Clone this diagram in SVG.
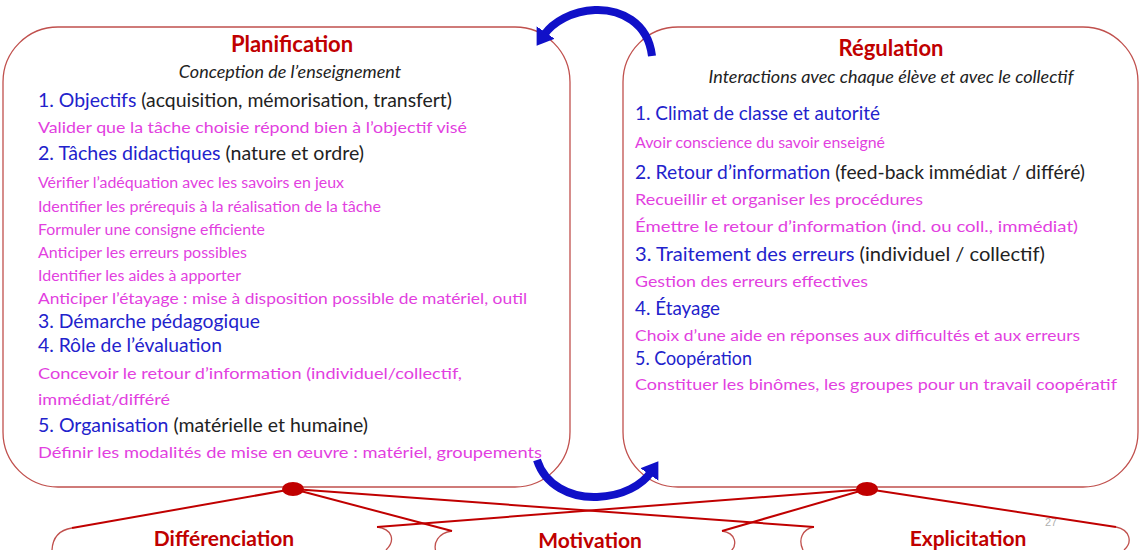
<svg xmlns="http://www.w3.org/2000/svg" width="1141" height="550" viewBox="0 0 1141 550">
<style>
text{font-family:Lato,"Open Sans","Liberation Sans",sans-serif}
.h{font-weight:bold;font-size:22px;fill:#c00000;text-anchor:middle}
.i{font-style:italic;font-size:18px;fill:#222;text-anchor:middle}
.L{font-size:19px;fill:#222}
.b{fill:#2222cc}
.m{font-size:16px;fill:#e23fe0}
.s{font-size:14.5px;fill:#e23fe0}
.box{fill:#fff;stroke:#c0504d;stroke-width:1.3}
.br{fill:none;stroke:#c0504d;stroke-width:1.3}
.c{stroke:#c00000;stroke-width:2;fill:none}
.dot{fill:#c00000}
.arc{fill:none;stroke:#1010c8;stroke-width:8}
.bl{font-weight:bold;font-size:21px;fill:#c00000;text-anchor:middle}
</style>
<defs>
<marker id="ah" markerUnits="userSpaceOnUse" markerWidth="24" markerHeight="24" refX="3" refY="11" orient="auto">
<path d="M0,0 L16,11 L0,22 z" fill="#1010c8"/>
</marker>
</defs>

<g id="planification">
<rect class="box" x="3" y="27" width="567" height="460" rx="55" ry="55"/>
<text class="h" x="292" y="52">Planification</text>
<text class="i" x="290" y="78">Conception de l’enseignement</text>
<text class="L" x="38" y="107" textLength="414" lengthAdjust="spacingAndGlyphs"><tspan class="b">1. Objectifs</tspan> (acquisition, mémorisation, transfert)</text>
<text class="m" x="38" y="133" textLength="429" lengthAdjust="spacingAndGlyphs">Valider que la tâche choisie répond bien à l’objectif visé</text>
<text class="L" x="38" y="160" textLength="326" lengthAdjust="spacingAndGlyphs"><tspan class="b">2. Tâches didactiques</tspan> (nature et ordre)</text>
<text class="s" x="38" y="188" textLength="306" lengthAdjust="spacingAndGlyphs">Vérifier l’adéquation avec les savoirs en jeux</text>
<text class="s" x="38" y="212" textLength="343" lengthAdjust="spacingAndGlyphs">Identifier les prérequis à la réalisation de la tâche</text>
<text class="s" x="38" y="235" textLength="227" lengthAdjust="spacingAndGlyphs">Formuler une consigne efficiente</text>
<text class="s" x="38" y="258" textLength="209" lengthAdjust="spacingAndGlyphs">Anticiper les erreurs possibles</text>
<text class="s" x="38" y="281" textLength="203" lengthAdjust="spacingAndGlyphs">Identifier les aides à apporter</text>
<text class="s" x="38" y="304" textLength="489" lengthAdjust="spacingAndGlyphs">Anticiper l’étayage : mise à disposition possible de matériel, outil</text>
<text class="L b" x="38" y="328" textLength="222" lengthAdjust="spacingAndGlyphs">3. Démarche pédagogique</text>
<text class="L b" x="38" y="352" textLength="184" lengthAdjust="spacingAndGlyphs">4. Rôle de l’évaluation</text>
<text class="m" x="38" y="379" textLength="424" lengthAdjust="spacingAndGlyphs">Concevoir le retour d’information (individuel/collectif,</text>
<text class="m" x="38" y="405" textLength="132" lengthAdjust="spacingAndGlyphs">immédiat/différé</text>
<text class="L" x="38" y="432" textLength="330" lengthAdjust="spacingAndGlyphs"><tspan class="b">5. Organisation</tspan> (matérielle et humaine)</text>
<text class="m" x="38" y="458" textLength="504" lengthAdjust="spacingAndGlyphs">Définir les modalités de mise en œuvre : matériel, groupements</text>
</g>

<g id="regulation">
<rect class="box" x="623" y="27" width="515" height="460" rx="55" ry="55"/>
<text class="h" x="891" y="56">Régulation</text>
<text class="i" x="891" y="83">Interactions avec chaque élève et avec le collectif</text>
<text class="L b" x="635" y="120" textLength="245" lengthAdjust="spacingAndGlyphs">1. Climat de classe et autorité</text>
<text class="m" x="635" y="148" textLength="250" lengthAdjust="spacingAndGlyphs">Avoir conscience du savoir enseigné</text>
<text class="L" x="635" y="179" textLength="450" lengthAdjust="spacingAndGlyphs"><tspan class="b">2. Retour d’information</tspan> (feed-back immédiat / différé)</text>
<text class="m" x="635" y="205" textLength="288" lengthAdjust="spacingAndGlyphs">Recueillir et organiser les procédures</text>
<text class="m" x="635" y="232" textLength="443" lengthAdjust="spacingAndGlyphs">Émettre le retour d’information (ind. ou coll., immédiat)</text>
<text class="L" x="635" y="261" textLength="410" lengthAdjust="spacingAndGlyphs"><tspan class="b">3. Traitement des erreurs</tspan>  (individuel / collectif)</text>
<text class="m" x="635" y="287" textLength="233" lengthAdjust="spacingAndGlyphs">Gestion des erreurs effectives</text>
<text class="L b" x="635" y="315" textLength="85" lengthAdjust="spacingAndGlyphs">4. Étayage</text>
<text class="m" x="635" y="341" textLength="445" lengthAdjust="spacingAndGlyphs">Choix d’une aide en réponses aux difficultés et aux erreurs</text>
<text class="L b" x="635" y="365" textLength="117" lengthAdjust="spacingAndGlyphs">5. Coopération</text>
<text class="m" x="635" y="390" textLength="482" lengthAdjust="spacingAndGlyphs">Constituer les binômes, les groupes pour un travail coopératif</text>
</g>

<g id="differenciation">
<path class="br" d="M72 528 Q53 531 52 550"/>
<path class="br" d="M377 527 C392 529 396 540 386 550"/>
<text class="bl" x="224" y="546">Différenciation</text>
</g>

<g id="motivation">
<path class="br" d="M452 531 C438 533 433 543 436 552"/>
<path class="br" d="M722 531 C736 533 738 545 730 552"/>
<text class="bl" x="590" y="548">Motivation</text>
</g>

<g id="explicitation">
<path class="br" d="M814 527 C802 529 798 540 803 550"/>
<path class="br" d="M1116 527 C1130 530 1133 542 1124 550"/>
<text class="bl" x="968" y="546">Explicitation</text>
</g>

<text x="1045" y="526" font-size="11" fill="#b0b0b0" style="font-family:'Liberation Sans',sans-serif">27</text>

<g id="connectors">
<path class="arc" d="M652 56 C648 22 620 9 595 10 C572 11 553 22 544 35" marker-end="url(#ah)"/>
<path class="arc" d="M537 460 C545 485 570 498 597 497 C623 496 642 485 651 472" marker-end="url(#ah)"/>
<line class="c" x1="293" y1="489" x2="72" y2="528"/>
<line class="c" x1="293" y1="489" x2="452" y2="531"/>
<line class="c" x1="293" y1="489" x2="814" y2="527"/>
<line class="c" x1="867" y1="489" x2="377" y2="527"/>
<line class="c" x1="867" y1="489" x2="722" y2="531"/>
<line class="c" x1="867" y1="489" x2="1116" y2="527"/>
<ellipse class="dot" cx="293" cy="489" rx="11" ry="7"/>
<ellipse class="dot" cx="867" cy="489" rx="11" ry="7"/>
</g>
</svg>
